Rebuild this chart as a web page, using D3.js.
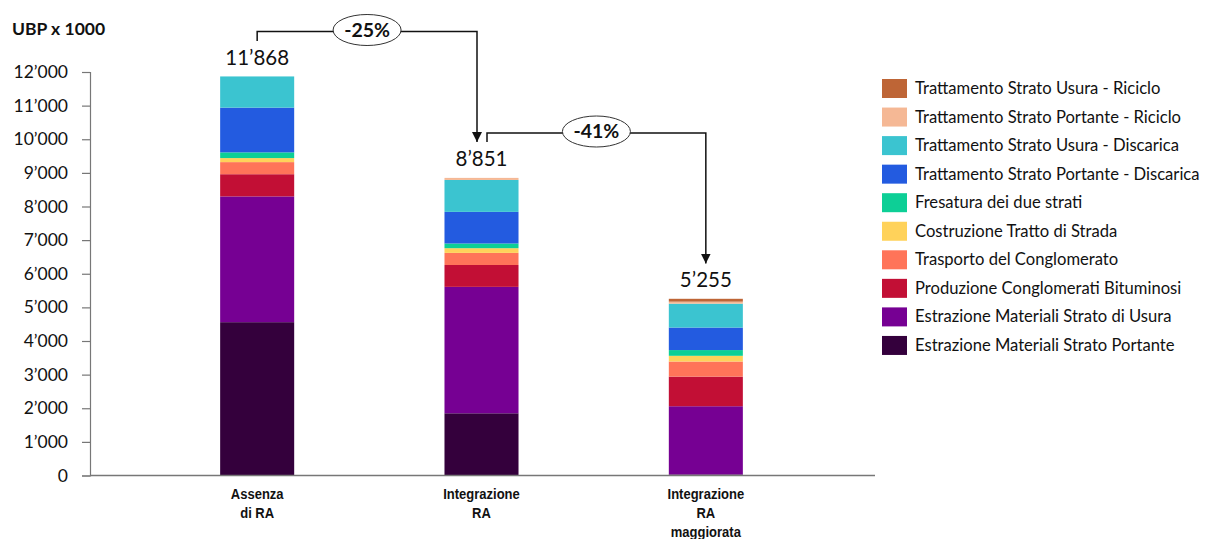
<!DOCTYPE html>
<html>
<head>
<meta charset="utf-8">
<script src="https://cdn.jsdelivr.net/npm/d3@7"></script>
<style>
  html, body { margin: 0; padding: 0; background: #fff; }
  svg { display: block; }
</style>
</head>
<body>
<svg id="chart" width="1205" height="539"></svg>
<script>
// Scenarios (x categories), each label split into lines
const categories = ["Assenza di RA", "Integrazione RA", "Integrazione RA maggiorata"];
const categoryLines = [["Assenza", "di RA"], ["Integrazione", "RA"], ["Integrazione", "RA", "maggiorata"]];

// Stack components, bottom to top
const seriesNames = [
  "Estrazione Materiali Strato Portante",
  "Estrazione Materiali Strato di Usura",
  "Produzione Conglomerati Bituminosi",
  "Trasporto del Conglomerato",
  "Costruzione Tratto di Strada",
  "Fresatura dei due strati",
  "Trattamento Strato Portante - Discarica",
  "Trattamento Strato Usura - Discarica",
  "Trattamento Strato Portante - Riciclo",
  "Trattamento Strato Usura - Riciclo"
];
const seriesColors = [
  "#34003c", "#760093", "#c20f35", "#ff7459", "#ffd25a",
  "#0dcf96", "#235be0", "#3bc4d0", "#f5b895", "#be6536"
];

// UBP x 1000 per component, one array per scenario (same order as seriesNames)
const assenzaRA      = [4560, 3740, 660, 360, 120, 170, 1330, 928, 0, 0];
const integrazioneRA = [1850, 3760, 650, 360, 140, 140, 940, 950, 61, 0];
const maggiorataRA   = [30, 2030, 880, 450, 170, 170, 670, 710, 60, 85];

// Totals printed above each bar
const totals = [11868, 8851, 5255];
// Reductions between consecutive scenarios
const reductions = ["-25%", "-41%"];

const yTicks = [0, 1000, 2000, 3000, 4000, 5000, 6000, 7000, 8000, 9000, 10000, 11000, 12000];

const scenarioValues = [assenzaRA, integrazioneRA, maggiorataRA];
const rows = categories.map((c, i) => {
  const r = { category: c };
  seriesNames.forEach((s, j) => { r[s] = scenarioValues[i][j]; });
  return r;
});

const svg = d3.select("#chart");
const fmt = v => d3.format(",")(v).replace(/,/g, "\u2019");

const x = d3.scaleBand().domain(categories).range([145, 818]).paddingInner(0.67).paddingOuter(0.335);
const y = d3.scaleLinear().domain([0, 12000]).range([475.5, 72]);

const stack = d3.stack().keys(seriesNames)(rows);

// stacked bars
svg.append("g").selectAll("g").data(stack).join("g")
  .attr("fill", (d, i) => seriesColors[i])
  .selectAll("rect").data(d => d).join("rect")
  .attr("x", d => x(d.data.category))
  .attr("width", x.bandwidth())
  .attr("y", d => y(d[1]))
  .attr("height", d => Math.max(0, y(d[0]) - y(d[1])));

// y axis
const yAxis = svg.append("g").attr("transform", "translate(90,0)")
  .call(d3.axisLeft(y).tickValues(yTicks).tickSize(8).tickPadding(14).tickFormat(fmt));
yAxis.select(".domain").attr("stroke", "#777").attr("stroke-width", 1.2);
yAxis.selectAll(".tick line").attr("stroke", "#777").attr("stroke-width", 1.2);
yAxis.selectAll(".tick text")
  .attr("font-family", "Lato, 'Open Sans', sans-serif")
  .attr("font-size", 17.5).attr("fill", "#111");

// x axis baseline
svg.append("line")
  .attr("x1", 90).attr("x2", 875)
  .attr("y1", y(0)).attr("y2", y(0))
  .attr("stroke", "#777").attr("stroke-width", 1.5);

// axis title
svg.append("text").attr("x", 12).attr("y", 35)
  .attr("font-family", "Lato, 'Open Sans', sans-serif")
  .attr("font-weight", "bold").attr("font-size", 17.5).attr("fill", "#111")
  .text("UBP x 1000");

// category labels (narrow bold)
categories.forEach((c, i) => {
  const cx = x(c) + x.bandwidth() / 2;
  const g = svg.append("g").attr("transform", `translate(${cx},0) scale(0.84,1)`);
  categoryLines[i].forEach((line, k) => {
    g.append("text").attr("x", 0).attr("y", 499 + k * 19)
      .attr("text-anchor", "middle")
      .attr("font-family", "'Liberation Sans', Arial, sans-serif")
      .attr("font-weight", "bold").attr("font-size", 15.5).attr("fill", "#111")
      .text(line);
  });
});

// totals above bars
categories.forEach((c, i) => {
  svg.append("text")
    .attr("x", x(c) + x.bandwidth() / 2)
    .attr("y", y(totals[i]) - 11.5)
    .attr("text-anchor", "middle")
    .attr("font-family", "Lato, 'Open Sans', sans-serif")
    .attr("font-size", 20.5).attr("fill", "#111")
    .text(fmt(totals[i]));
});

// reduction brackets with arrows
svg.append("defs").append("marker")
  .attr("id", "arrow").attr("viewBox", "0 0 10 10")
  .attr("refX", 10).attr("refY", 5)
  .attr("markerWidth", 10).attr("markerHeight", 10)
  .attr("markerUnits", "userSpaceOnUse")
  .attr("orient", "auto")
  .append("path").attr("d", "M0,0 L10,5 L0,10 Z").attr("fill", "#111");

const brackets = [
  { from: 0, to: 1, startY: 41, lineY: 31.5, endY: 142, dx1: 0, dx2: -4.5 },
  { from: 1, to: 2, startY: 142, lineY: 133, endY: 263.5, dx1: 5.5, dx2: 0 }
];
brackets.forEach((b, i) => {
  const x1 = x(categories[b.from]) + x.bandwidth() / 2 + b.dx1;
  const x2 = x(categories[b.to]) + x.bandwidth() / 2 + b.dx2;
  svg.append("path")
    .attr("d", `M${x1},${b.startY} V${b.lineY} H${x2} V${b.endY}`)
    .attr("fill", "none").attr("stroke", "#111").attr("stroke-width", 1.5)
    .attr("marker-end", "url(#arrow)");
  const mx = (x1 + x2) / 2;
  svg.append("ellipse")
    .attr("cx", mx).attr("cy", b.lineY - 1.5)
    .attr("rx", 34).attr("ry", 15.5)
    .attr("fill", "#fff").attr("stroke", "#333").attr("stroke-width", 1);
  svg.append("text")
    .attr("x", mx).attr("y", b.lineY + 5)
    .attr("text-anchor", "middle")
    .attr("font-family", "Lato, 'Open Sans', sans-serif")
    .attr("font-weight", "bold").attr("font-size", 19.5).attr("fill", "#111")
    .text(reductions[i]);
});

// legend, top entry is the last stacked series
const legend = svg.append("g").attr("transform", "translate(882,79)");
const legendOrder = seriesNames.map((s, i) => i).reverse();
legendOrder.forEach((si, k) => {
  const g = legend.append("g").attr("transform", `translate(0,${k * 28.55})`);
  g.append("rect").attr("width", 25).attr("height", 19)
    .attr("fill", seriesColors[si]);
  g.append("text").attr("x", 33).attr("y", 15)
    .attr("font-family", "Lato, 'Open Sans', sans-serif")
    .attr("font-size", 16.6).attr("fill", "#111")
    .text(seriesNames[si]);
});
</script>
</body>
</html>
